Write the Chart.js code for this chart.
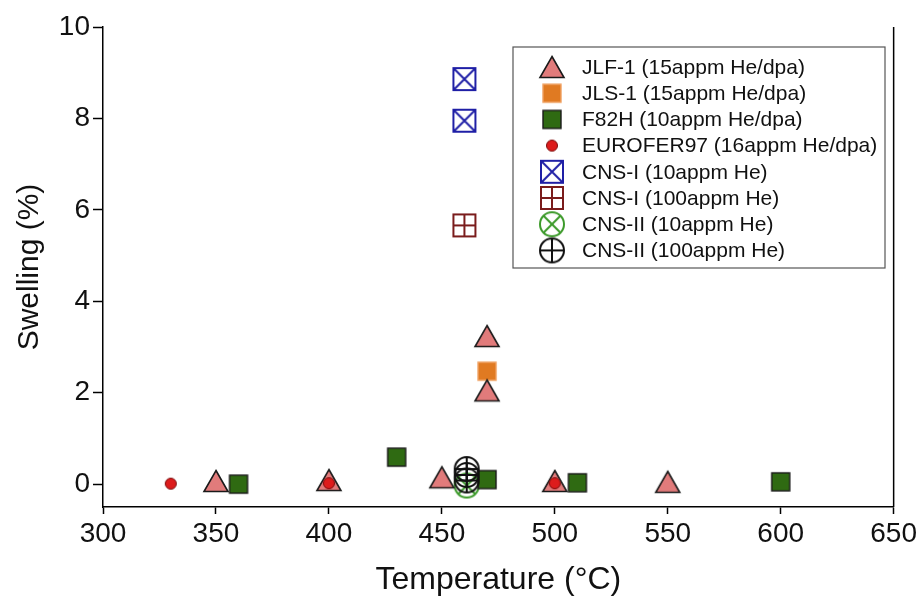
<!DOCTYPE html>
<html>
<head>
<meta charset="utf-8">
<script src="https://cdn.jsdelivr.net/npm/chart.js@4.4.1/dist/chart.umd.min.js"></script>
<style>
    html, body { margin: 0; padding: 0; background: #fff; }
</style>
</head>
<body>
<canvas id="swellingChart" width="920" height="601"></canvas>
<script>
// Waarden (temperatuur in °C, zwelling in %)
const jlf1Temp = [350, 400, 450, 470, 470, 500, 550];
const jlf1Swelling = [0.07, 0.09, 0.15, 3.24, 2.05, 0.07, 0.05];

const jls1Temp = [470];
const jls1Swelling = [2.47];

const f82hTemp = [360, 430, 470, 510, 600];
const f82hSwelling = [0.0, 0.59, 0.1, 0.03, 0.05];

const euroferTemp = [330, 400, 500];
const euroferSwelling = [0.01, 0.02, 0.02];

const cns1LowTemp = [460, 460];
const cns1LowSwelling = [8.86, 7.95];

const cns1HighTemp = [460];
const cns1HighSwelling = [5.66];

const cns2LowTemp = [461];
const cns2LowSwelling = [-0.03];

const cns2HighTemp = [461, 461, 461];
const cns2HighSwelling = [0.33, 0.2, 0.08];

const xTicks = [300, 350, 400, 450, 500, 550, 600, 650];
const yTicks = [0, 2, 4, 6, 8, 10];

const seriesLabels = [
    'JLF-1 (15appm He/dpa)',
    'JLS-1 (15appm He/dpa)',
    'F82H (10appm He/dpa)',
    'EUROFER97 (16appm He/dpa)',
    'CNS-I (10appm He)',
    'CNS-I (100appm He)',
    'CNS-II (10appm He)',
    'CNS-II (100appm He)'
];

const FONT = "'Liberation Sans', Arial, sans-serif";

// Symbolen als kleine canvasjes, zodat ze ook in de legenda bruikbaar zijn
function makeSymbol(kind, fill, stroke) {
    const c = document.createElement('canvas');
    c.width = 30; c.height = 30;
    const g = c.getContext('2d');
    const m = 15;
    g.lineJoin = 'miter';
    if (kind === 'triangle') {
        g.beginPath();
        g.moveTo(m, m - 10.5);
        g.lineTo(m + 12, m + 10.5);
        g.lineTo(m - 12, m + 10.5);
        g.closePath();
        g.fillStyle = fill; g.fill();
        g.lineWidth = 1.6; g.strokeStyle = stroke; g.stroke();
    } else if (kind === 'square') {
        g.fillStyle = fill;
        g.fillRect(m - 9, m - 9, 18, 18);
        g.lineWidth = 1.4; g.strokeStyle = stroke;
        g.strokeRect(m - 9, m - 9, 18, 18);
    } else if (kind === 'dot') {
        g.beginPath();
        g.arc(m, m, 5.5, 0, Math.PI * 2);
        g.fillStyle = fill; g.fill();
        g.lineWidth = 1; g.strokeStyle = stroke; g.stroke();
    } else if (kind === 'boxX' || kind === 'boxPlus') {
        g.lineWidth = 2; g.strokeStyle = stroke;
        g.strokeRect(m - 11, m - 11, 22, 22);
        g.beginPath();
        if (kind === 'boxX') {
            g.moveTo(m - 11, m - 11); g.lineTo(m + 11, m + 11);
            g.moveTo(m + 11, m - 11); g.lineTo(m - 11, m + 11);
        } else {
            g.moveTo(m, m - 11); g.lineTo(m, m + 11);
            g.moveTo(m - 11, m); g.lineTo(m + 11, m);
        }
        g.stroke();
    } else if (kind === 'circleX' || kind === 'circlePlus') {
        const r = 12;
        g.lineWidth = 2; g.strokeStyle = stroke;
        g.beginPath();
        g.arc(m, m, r, 0, Math.PI * 2);
        if (kind === 'circleX') {
            const d = r * Math.SQRT1_2;
            g.moveTo(m - d, m - d); g.lineTo(m + d, m + d);
            g.moveTo(m + d, m - d); g.lineTo(m - d, m + d);
        } else {
            g.moveTo(m, m - r); g.lineTo(m, m + r);
            g.moveTo(m - r, m); g.lineTo(m + r, m);
        }
        g.stroke();
    }
    return c;
}

const symbols = [
    makeSymbol('triangle', '#e17b7b', '#1a1a1a'),
    makeSymbol('square', '#e07a22', '#f0a060'),
    makeSymbol('square', '#2f6a12', '#1a1a1a'),
    makeSymbol('dot', '#dd1c1c', '#7a0a0a'),
    makeSymbol('boxX', null, '#1f1fa6'),
    makeSymbol('boxPlus', null, '#7a1c1c'),
    makeSymbol('circleX', null, '#3c9a2a'),
    makeSymbol('circlePlus', null, '#111111')
];

function toPoints(xs, ys) {
    return xs.map((x, i) => ({ x: x, y: ys[i] }));
}

const seriesData = [
    toPoints(jlf1Temp, jlf1Swelling),
    toPoints(jls1Temp, jls1Swelling),
    toPoints(f82hTemp, f82hSwelling),
    toPoints(euroferTemp, euroferSwelling),
    toPoints(cns1LowTemp, cns1LowSwelling),
    toPoints(cns1HighTemp, cns1HighSwelling),
    toPoints(cns2LowTemp, cns2LowSwelling),
    toPoints(cns2HighTemp, cns2HighSwelling)
];

// lagere 'order' wordt bovenop getekend
const drawOrder = [2, 3, 4, 0, 5, 6, 7, 1];

const datasets = seriesData.map((pts, i) => ({
    label: seriesLabels[i],
    data: pts,
    pointStyle: symbols[i],
    pointRadius: 10,
    pointHoverRadius: 10,
    showLine: false,
    order: drawOrder[i]
}));

// Legenda met kader binnen het plotvlak
const boxedLegend = {
    id: 'boxedLegend',
    afterDraw(chart) {
        const ctx = chart.ctx;
        const left = 513, top = 47, right = 885, bottom = 268;
        ctx.save();
        ctx.fillStyle = '#fff';
        ctx.fillRect(left, top, right - left, bottom - top);
        ctx.strokeStyle = '#555';
        ctx.lineWidth = 1.2;
        ctx.strokeRect(left, top, right - left, bottom - top);
        ctx.font = '21px ' + FONT;
        ctx.fillStyle = '#111';
        ctx.textBaseline = 'middle';
        chart.data.datasets.forEach((ds, i) => {
            const y = 67 + i * 26.2;
            const img = ds.pointStyle;
            ctx.drawImage(img, 552 - img.width / 2, y - img.height / 2);
            ctx.fillText(ds.label, 582, y + 1);
        });
        ctx.restore();
    }
};

// Rechter kaderlijn
const rightFrame = {
    id: 'rightFrame',
    afterDatasetsDraw(chart) {
        const { ctx, chartArea } = chart;
        ctx.save();
        ctx.strokeStyle = '#000';
        ctx.lineWidth = 1.5;
        ctx.beginPath();
        ctx.moveTo(chartArea.right, chartArea.top);
        ctx.lineTo(chartArea.right, chartArea.bottom);
        ctx.stroke();
        ctx.restore();
    }
};

new Chart(document.getElementById('swellingChart'), {
    type: 'scatter',
    data: { datasets: datasets },
    options: {
        responsive: false,
        animation: false,
        layout: { padding: { top: 27, right: 24, left: 0, bottom: 0 } },
        plugins: {
            legend: { display: false },
            tooltip: { enabled: false }
        },
        scales: {
            x: {
                type: 'linear',
                min: 300,
                max: 650,
                afterFit: s => { s.height = 94; },
                afterBuildTicks: s => { s.ticks = xTicks.map(v => ({ value: v })); },
                grid: { drawOnChartArea: false, drawTicks: true, tickLength: 7, tickColor: '#000', tickWidth: 1.5 },
                border: { display: true, color: '#000', width: 1.5 },
                ticks: { color: '#111', font: { family: FONT, size: 28 }, padding: 3, maxRotation: 0 },
                title: {
                    display: true,
                    text: 'Temperature (°C)',
                    color: '#111',
                    font: { family: FONT, size: 32 },
                    padding: { top: 0, bottom: 2 }
                }
            },
            y: {
                type: 'linear',
                min: -0.5,
                max: 10,
                afterFit: s => { s.width = 103; },
                afterBuildTicks: s => { s.ticks = yTicks.map(v => ({ value: v })); },
                grid: { drawOnChartArea: false, drawTicks: true, tickLength: 10, tickColor: '#000', tickWidth: 1.5 },
                border: { display: true, color: '#000', width: 1.5 },
                ticks: { color: '#111', font: { family: FONT, size: 28 }, padding: 3 },
                title: {
                    display: true,
                    text: 'Swelling (%)',
                    color: '#111',
                    font: { family: FONT, size: 30 },
                    padding: { top: 12, bottom: 0 }
                }
            }
        }
    },
    plugins: [boxedLegend, rightFrame]
});
</script>
</body>
</html>
